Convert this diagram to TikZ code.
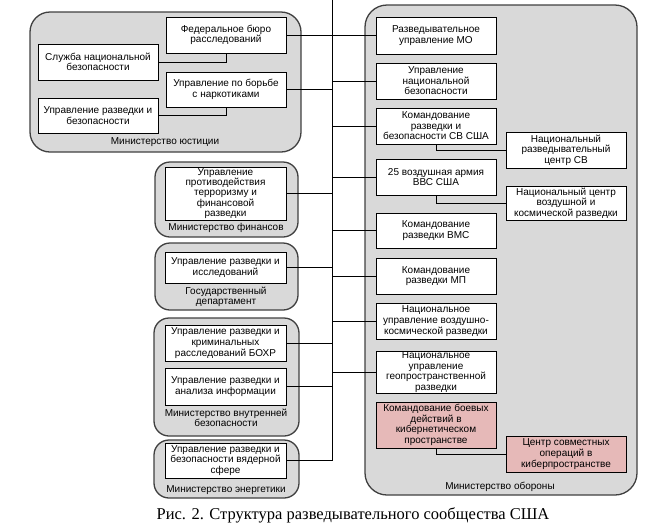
\documentclass[tikz,border=0pt]{standalone}
\usepackage{fontspec}
\setmainfont{Liberation Sans}
\newfontfamily\capfont{Liberation Serif}
\begin{document}
\begin{tikzpicture}[x=1pt,y=-1pt,
  box/.style={draw=black, line width=0.8pt, fill=white, align=center, inner sep=0.5pt,
    font=\fontsize{10}{10.6}\selectfont, minimum width=120pt},
  pinkbox/.style={box, fill=pinkc},
  grp/.style={draw=grpborder, line width=1.3pt, fill=grpfill, rounded corners=15pt},
  glabel/.style={align=center, inner sep=0pt, font=\fontsize{10}{10.6}\selectfont},
  conn/.style={draw=black, line width=0.8pt}]
\definecolor{grpfill}{HTML}{D9D9D9}
\definecolor{grpborder}{HTML}{404040}
\definecolor{pinkc}{HTML}{E6B9B8}
\useasboundingbox (0,0) rectangle (658,528);
% groups
\draw[grp, rounded corners=20pt] (30,12) rectangle (301,152);
\draw[grp] (155,162) rectangle (298,237);
\draw[grp] (155,243) rectangle (298,310);
\draw[grp] (154,318) rectangle (299,436);
\draw[grp] (154,440) rectangle (299,498);
\draw[grp, rounded corners=22pt] (365,5) rectangle (637,495);
% justice
\node[box, minimum height=36pt] (fbi) at (226,35) {Федеральное бюро\\расследований};
\node[box, minimum height=36pt] (snb) at (98,62) {Служба национальной\\безопасности};
\node[box, minimum height=35pt] (ubn) at (226,89.5) {Управление по борьбе\\с наркотиками};
\node[box, minimum height=35pt] (urb) at (98,115.5) {Управление разведки и\\безопасности};
\node[glabel] (lj) at (165,142) {Министерство юстиции};
% finance
\node[box, minimum width=121pt, minimum height=53pt, inner sep=0pt, font=\fontsize{10}{10.2}\selectfont] (fin) at (225.5,193.5) {Управление\\противодействия\\терроризму и\\финансовой\\разведки};
\node[glabel] (lf) at (226,228) {Министерство финансов};
% state
\node[box, minimum width=121pt, minimum height=31pt] (st) at (225.5,267.5) {Управление разведки и\\исследований};
\node[glabel] (ls) at (226,297) {Государственный\\департамент};
% DHS
\node[box, minimum width=121pt, minimum height=36pt] (dh1) at (225.5,343) {Управление разведки и\\криминальных\\расследований БОХР};
\node[box, minimum width=121pt, minimum height=37pt] (dh2) at (225.5,386.5) {Управление разведки и\\анализа информации};
\node[glabel] (ld) at (226,418) {Министерство внутренней\\безопасности};
% energy
\node[box, minimum width=121pt, minimum height=35pt] (en) at (225.5,460.5) {Управление разведки и\\безопасности вядерной\\сфере};
\node[glabel] (le) at (226,490) {Министерство энергетики};
% defence
\node[box, minimum height=37pt] (r1) at (436,35.5) {Разведывательное\\управление МО};
\node[box, minimum height=36pt] (r2) at (436,81) {Управление\\национальной\\безопасности};
\node[box, minimum height=36pt] (r3) at (436,126) {Командование\\разведки и\\безопасности СВ США};
\node[box, minimum height=36pt] (r4) at (436,177) {25 воздушная армия\\ВВС США};
\node[box, minimum height=35pt] (r5) at (436,230.5) {Командование\\разведки ВМС};
\node[box, minimum height=36pt] (r6) at (436,276) {Командование\\разведки МП};
\node[box, minimum height=36pt] (r7) at (436,321) {Национальное\\управление воздушно-\\космической разведки};
\node[box, minimum height=42pt] (r8) at (436,372) {Национальное\\управление\\геопространственной\\разведки};
\node[pinkbox, minimum height=46pt] (r9) at (436,425) {Командование боевых\\действий в\\кибернетическом\\пространстве};
\node[box, minimum height=36pt] (s1) at (566,150) {Национальный\\разведывательный\\центр СВ};
\node[box, minimum height=34pt] (s2) at (566,203) {Национальный центр\\воздушной и\\космической разведки};
\node[pinkbox, minimum height=36pt] (s3) at (566,454) {Центр совместных\\операций в\\киберпространстве};
\node[glabel] (lo) at (500,487) {Министерство обороны};
% bus
\coordinate (bustop) at (332,0);
\coordinate (busbot) at (332,461);
\draw[conn] (bustop) -- (busbot);
\foreach \n in {fbi,ubn,fin,st,dh1,dh2,en}
  \draw[conn] (\n.east) -- (\n.east -| bustop);
\foreach \n in {r1,r2,r3,r4,r5,r6,r7,r8}
  \draw[conn] (\n.west) -- (\n.west -| bustop);
\draw[conn] (snb.east) -| (fbi.south);
\draw[conn] (urb.east) -| (ubn.south);
\draw[conn] (r3.south) |- (s1.west);
\draw[conn] (r4.south) |- (s2.west);
\draw[conn] (r9.south) |- (s3.west);
% caption
\node[font=\capfont\fontsize{16.5}{18}\selectfont, inner sep=0pt] (cap) at (353,515) {Рис. 2. Структура разведывательного сообщества США};
\end{tikzpicture}
\end{document}
